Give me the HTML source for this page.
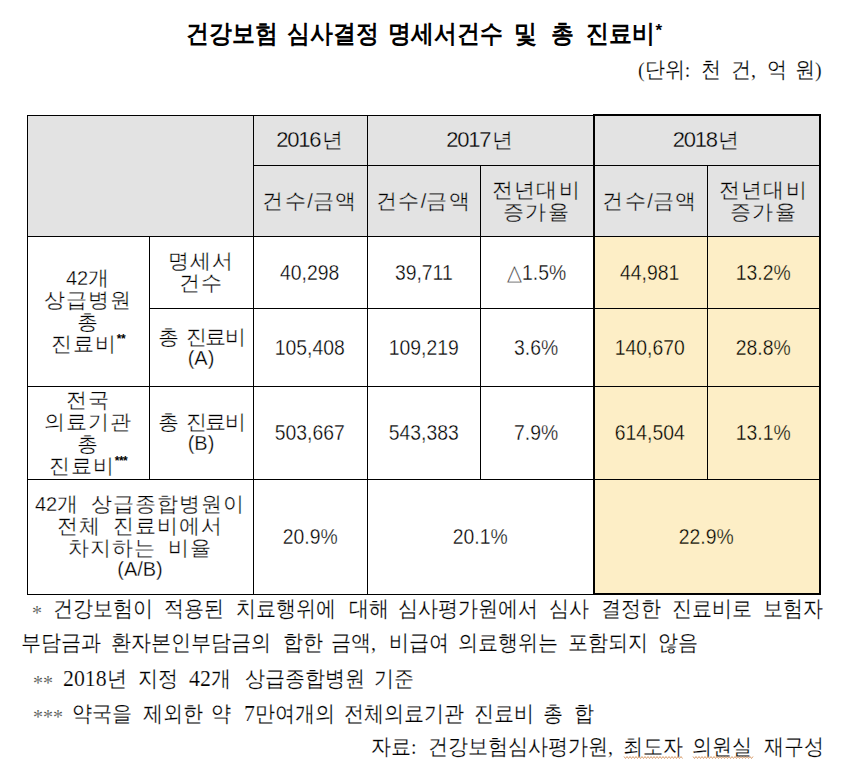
<!DOCTYPE html>
<html><head><meta charset="utf-8"><style>
html,body{margin:0;padding:0;background:#fff;width:845px;height:766px;overflow:hidden;position:relative}
.ln{position:absolute;background:#000}
.fl{position:absolute}
.c{position:absolute;display:flex;align-items:center;justify-content:center;text-align:center;font-family:"Liberation Sans",sans-serif;font-size:20px;line-height:21px;color:#000}
.c sup{font-size:12px;vertical-align:top;line-height:10px;-webkit-text-stroke:0;font-weight:bold;position:relative;top:1px;letter-spacing:-0.5px}
.h{font-size:21px;letter-spacing:var(--ls,1px)}
.d{font-size:22px;letter-spacing:-1.2px;margin-right:1.5px}
.c{-webkit-text-stroke:0.3px #fff}
.c.g{-webkit-text-stroke:0.3px #e3e3e3}
.c.y{-webkit-text-stroke:0.3px #fdeec6}
.w{position:absolute;white-space:pre;color:#000;line-height:normal}
.ast{position:absolute;font-family:"Liberation Sans",sans-serif;font-weight:bold;font-size:17px;line-height:17px}
</style></head><body>
<div class="fl" style="left:27px;top:115px;width:793px;height:121px;background:#e3e3e3"></div><div class="fl" style="left:593px;top:236px;width:227px;height:358px;background:#fdeec6"></div>
<div class="c g" style="left:253px;top:115px;width:114px;height:50px"><div style=""><span class="d">2016</span><span class="h">년</span></div></div><div class="c g" style="left:367px;top:115px;width:226px;height:50px"><div style=""><span class="d">2017</span><span class="h">년</span></div></div><div class="c g" style="left:593px;top:115px;width:227px;height:50px"><div style=""><span class="d">2018</span><span class="h">년</span></div></div><div class="c g" style="left:253px;top:165px;width:114px;height:71px"><div style="--ls:1.6px"><span class="h">건수</span>/<span class="h">금액</span></div></div><div class="c g" style="left:367px;top:165px;width:113px;height:71px"><div style="--ls:1.6px"><span class="h">건수</span>/<span class="h">금액</span></div></div><div class="c g" style="left:480px;top:165px;width:113px;height:71px"><div style="--ls:1.4px"><span class="h">전년대비</span><br><span class="h">증가율</span></div></div><div class="c g" style="left:593px;top:165px;width:114px;height:71px"><div style="--ls:1.6px"><span class="h">건수</span>/<span class="h">금액</span></div></div><div class="c g" style="left:707px;top:165px;width:113px;height:71px"><div style="--ls:1.4px"><span class="h">전년대비</span><br><span class="h">증가율</span></div></div><div class="c" style="left:27px;top:236px;width:122px;height:150px"><div style="">42<span class="h">개</span><br><span class="h">상급병원</span><br><span class="h">총</span><br><span class="h">진료비</span><sup>**</sup></div></div><div class="c" style="left:149px;top:236px;width:104px;height:72px"><div style=""><span class="h">명세서</span><br><span class="h">건수</span></div></div><div class="c" style="left:149px;top:308px;width:104px;height:78px"><div style="--ls:-1.5px;word-spacing:4px"><span class="h">총 진료비</span><br>(A)</div></div><div class="c" style="left:27px;top:386px;width:122px;height:93px"><div style=""><span class="h">전국</span><br><span class="h">의료기관</span><br><span class="h">총</span><br><span class="h">진료비</span><sup>***</sup></div></div><div class="c" style="left:149px;top:386px;width:104px;height:93px"><div style="--ls:-1.5px;word-spacing:4px"><span class="h">총 진료비</span><br>(B)</div></div><div class="c" style="left:253px;top:236px;width:114px;height:72px"><div style="font-size:22px;transform:scaleX(0.88);-webkit-text-stroke-width:0.35px">40,298</div></div><div class="c" style="left:367px;top:236px;width:113px;height:72px"><div style="font-size:22px;transform:scaleX(0.88);-webkit-text-stroke-width:0.35px">39,711</div></div><div class="c" style="left:480px;top:236px;width:113px;height:72px"><div style="font-size:22px;transform:scaleX(0.88);-webkit-text-stroke-width:0.35px">△1.5%</div></div><div class="c y" style="left:593px;top:236px;width:114px;height:72px"><div style="font-size:22px;transform:scaleX(0.88);-webkit-text-stroke-width:0.35px">44,981</div></div><div class="c y" style="left:707px;top:236px;width:113px;height:72px"><div style="font-size:22px;transform:scaleX(0.88);-webkit-text-stroke-width:0.35px">13.2%</div></div><div class="c" style="left:253px;top:308px;width:114px;height:78px"><div style="font-size:22px;transform:scaleX(0.88);-webkit-text-stroke-width:0.35px">105,408</div></div><div class="c" style="left:367px;top:308px;width:113px;height:78px"><div style="font-size:22px;transform:scaleX(0.88);-webkit-text-stroke-width:0.35px">109,219</div></div><div class="c" style="left:480px;top:308px;width:113px;height:78px"><div style="font-size:22px;transform:scaleX(0.88);-webkit-text-stroke-width:0.35px">3.6%</div></div><div class="c y" style="left:593px;top:308px;width:114px;height:78px"><div style="font-size:22px;transform:scaleX(0.88);-webkit-text-stroke-width:0.35px">140,670</div></div><div class="c y" style="left:707px;top:308px;width:113px;height:78px"><div style="font-size:22px;transform:scaleX(0.88);-webkit-text-stroke-width:0.35px">28.8%</div></div><div class="c" style="left:253px;top:386px;width:114px;height:93px"><div style="font-size:22px;transform:scaleX(0.88);-webkit-text-stroke-width:0.35px">503,667</div></div><div class="c" style="left:367px;top:386px;width:113px;height:93px"><div style="font-size:22px;transform:scaleX(0.88);-webkit-text-stroke-width:0.35px">543,383</div></div><div class="c" style="left:480px;top:386px;width:113px;height:93px"><div style="font-size:22px;transform:scaleX(0.88);-webkit-text-stroke-width:0.35px">7.9%</div></div><div class="c y" style="left:593px;top:386px;width:114px;height:93px"><div style="font-size:22px;transform:scaleX(0.88);-webkit-text-stroke-width:0.35px">614,504</div></div><div class="c y" style="left:707px;top:386px;width:113px;height:93px"><div style="font-size:22px;transform:scaleX(0.88);-webkit-text-stroke-width:0.35px">13.1%</div></div><div class="c" style="left:27px;top:479px;width:226px;height:115px"><div style="word-spacing:5px">42<span class="h">개 상급종합병원이</span><br><span class="h">전체 진료비에서</span><br><span class="h">차지하는 비율</span><br>(A/B)</div></div><div class="c" style="left:253px;top:479px;width:114px;height:115px"><div style="font-size:22px;transform:scaleX(0.88);-webkit-text-stroke-width:0.35px">20.9%</div></div><div class="c" style="left:367px;top:479px;width:226px;height:115px"><div style="font-size:22px;transform:scaleX(0.88);-webkit-text-stroke-width:0.35px">20.1%</div></div><div class="c y" style="left:593px;top:479px;width:227px;height:115px"><div style="font-size:22px;transform:scaleX(0.88);-webkit-text-stroke-width:0.35px">22.9%</div></div>
<div class="ln" style="left:27px;top:115px;width:567px;height:1px"></div><div class="ln" style="left:593px;top:114px;width:228px;height:2px"></div><div class="ln" style="left:253px;top:165px;width:568px;height:1px"></div><div class="ln" style="left:27px;top:236px;width:794px;height:1px"></div><div class="ln" style="left:149px;top:308px;width:672px;height:1px"></div><div class="ln" style="left:27px;top:386px;width:794px;height:1px"></div><div class="ln" style="left:27px;top:479px;width:794px;height:1px"></div><div class="ln" style="left:27px;top:594px;width:567px;height:1px"></div><div class="ln" style="left:593px;top:593px;width:228px;height:2px"></div><div class="ln" style="left:27px;top:115px;width:1px;height:480px"></div><div class="ln" style="left:149px;top:236px;width:1px;height:244px"></div><div class="ln" style="left:253px;top:115px;width:1px;height:480px"></div><div class="ln" style="left:367px;top:115px;width:1px;height:480px"></div><div class="ln" style="left:480px;top:165px;width:1px;height:315px"></div><div class="ln" style="left:593px;top:114px;width:2px;height:481px"></div><div class="ln" style="left:707px;top:165px;width:1px;height:315px"></div><div class="ln" style="left:819px;top:114px;width:2px;height:481px"></div>
<span class="w" style="left:186.0px;top:17.4px;font-family:'Liberation Serif',serif;font-size:25px;font-weight:bold;transform:scaleX(0.915);transform-origin:0 0;">건강보험</span>
<span class="w" style="left:287.0px;top:17.4px;font-family:'Liberation Serif',serif;font-size:25px;font-weight:bold;transform:scaleX(0.915);transform-origin:0 0;">심사결정</span>
<span class="w" style="left:388.0px;top:17.4px;font-family:'Liberation Serif',serif;font-size:25px;font-weight:bold;transform:scaleX(0.915);transform-origin:0 0;">명세서건수</span>
<span class="w" style="left:514.0px;top:17.4px;font-family:'Liberation Serif',serif;font-size:25px;font-weight:bold;transform:scaleX(0.915);transform-origin:0 0;">및</span>
<span class="w" style="left:550.6px;top:17.4px;font-family:'Liberation Serif',serif;font-size:25px;font-weight:bold;transform:scaleX(0.915);transform-origin:0 0;">총</span>
<span class="w" style="left:586.0px;top:17.4px;font-family:'Liberation Serif',serif;font-size:25px;font-weight:bold;transform:scaleX(0.915);transform-origin:0 0;">진료비</span>
<span class="w" style="left:637.7px;top:54.8px;font-family:'Liberation Serif',serif;font-size:22px;transform:scaleX(0.909);transform-origin:0 0;-webkit-text-stroke:0.2px #fff;">(단위:</span>
<span class="w" style="left:701.3px;top:54.8px;font-family:'Liberation Serif',serif;font-size:22px;transform:scaleX(0.909);transform-origin:0 0;-webkit-text-stroke:0.2px #fff;">천</span>
<span class="w" style="left:731.0px;top:54.8px;font-family:'Liberation Serif',serif;font-size:22px;transform:scaleX(0.909);transform-origin:0 0;-webkit-text-stroke:0.2px #fff;">건,</span>
<span class="w" style="left:767.0px;top:54.8px;font-family:'Liberation Serif',serif;font-size:22px;transform:scaleX(0.909);transform-origin:0 0;-webkit-text-stroke:0.2px #fff;">억</span>
<span class="w" style="left:794.5px;top:54.8px;font-family:'Liberation Serif',serif;font-size:22px;transform:scaleX(0.909);transform-origin:0 0;-webkit-text-stroke:0.2px #fff;">원)</span>
<span class="w" style="left:32.3px;top:600.0px;font-family:'Liberation Serif',serif;font-size:22px;transform:scaleX(0.909);transform-origin:0 0;-webkit-text-stroke:0.2px #fff;color:#333;">*</span>
<span class="w" style="left:53.0px;top:594.0px;font-family:'Liberation Serif',serif;font-size:22px;transform:scaleX(0.909);transform-origin:0 0;-webkit-text-stroke:0.2px #fff;">건강보험이</span>
<span class="w" style="left:164.0px;top:594.0px;font-family:'Liberation Serif',serif;font-size:22px;transform:scaleX(0.909);transform-origin:0 0;-webkit-text-stroke:0.2px #fff;">적용된</span>
<span class="w" style="left:235.5px;top:594.0px;font-family:'Liberation Serif',serif;font-size:22px;transform:scaleX(0.909);transform-origin:0 0;-webkit-text-stroke:0.2px #fff;">치료행위에</span>
<span class="w" style="left:349.0px;top:594.0px;font-family:'Liberation Serif',serif;font-size:22px;transform:scaleX(0.909);transform-origin:0 0;-webkit-text-stroke:0.2px #fff;">대해</span>
<span class="w" style="left:398.0px;top:594.0px;font-family:'Liberation Serif',serif;font-size:22px;transform:scaleX(0.909);transform-origin:0 0;-webkit-text-stroke:0.2px #fff;">심사평가원에서</span>
<span class="w" style="left:549.0px;top:594.0px;font-family:'Liberation Serif',serif;font-size:22px;transform:scaleX(0.909);transform-origin:0 0;-webkit-text-stroke:0.2px #fff;">심사</span>
<span class="w" style="left:601.0px;top:594.0px;font-family:'Liberation Serif',serif;font-size:22px;transform:scaleX(0.909);transform-origin:0 0;-webkit-text-stroke:0.2px #fff;">결정한</span>
<span class="w" style="left:672.0px;top:594.0px;font-family:'Liberation Serif',serif;font-size:22px;transform:scaleX(0.909);transform-origin:0 0;-webkit-text-stroke:0.2px #fff;">진료비로</span>
<span class="w" style="left:763.0px;top:594.0px;font-family:'Liberation Serif',serif;font-size:22px;transform:scaleX(0.909);transform-origin:0 0;-webkit-text-stroke:0.2px #fff;">보험자</span>
<span class="w" style="left:20.5px;top:628.0px;font-family:'Liberation Serif',serif;font-size:22px;transform:scaleX(0.909);transform-origin:0 0;-webkit-text-stroke:0.2px #fff;">부담금과</span>
<span class="w" style="left:110.5px;top:628.0px;font-family:'Liberation Serif',serif;font-size:22px;transform:scaleX(0.909);transform-origin:0 0;-webkit-text-stroke:0.2px #fff;">환자본인부담금의</span>
<span class="w" style="left:282.5px;top:628.0px;font-family:'Liberation Serif',serif;font-size:22px;transform:scaleX(0.909);transform-origin:0 0;-webkit-text-stroke:0.2px #fff;">합한</span>
<span class="w" style="left:330.8px;top:628.0px;font-family:'Liberation Serif',serif;font-size:22px;transform:scaleX(0.909);transform-origin:0 0;-webkit-text-stroke:0.2px #fff;">금액,</span>
<span class="w" style="left:388.8px;top:628.0px;font-family:'Liberation Serif',serif;font-size:22px;transform:scaleX(0.909);transform-origin:0 0;-webkit-text-stroke:0.2px #fff;">비급여</span>
<span class="w" style="left:458.0px;top:628.0px;font-family:'Liberation Serif',serif;font-size:22px;transform:scaleX(0.909);transform-origin:0 0;-webkit-text-stroke:0.2px #fff;">의료행위는</span>
<span class="w" style="left:568.0px;top:628.0px;font-family:'Liberation Serif',serif;font-size:22px;transform:scaleX(0.909);transform-origin:0 0;-webkit-text-stroke:0.2px #fff;">포함되지</span>
<span class="w" style="left:658.0px;top:628.0px;font-family:'Liberation Serif',serif;font-size:22px;transform:scaleX(0.909);transform-origin:0 0;-webkit-text-stroke:0.2px #fff;">않음</span>
<span class="w" style="left:32.7px;top:669.8px;font-family:'Liberation Serif',serif;font-size:22px;transform:scaleX(0.909);transform-origin:0 0;-webkit-text-stroke:0.2px #fff;color:#333;">**</span>
<span class="w" style="left:62.7px;top:663.8px;font-family:'Liberation Serif',serif;font-size:22px;transform:scaleX(0.909);transform-origin:0 0;-webkit-text-stroke:0.2px #fff;"><span style='font-size:24px'>2018</span>년</span>
<span class="w" style="left:138.0px;top:663.8px;font-family:'Liberation Serif',serif;font-size:22px;transform:scaleX(0.909);transform-origin:0 0;-webkit-text-stroke:0.2px #fff;">지정</span>
<span class="w" style="left:189.0px;top:663.8px;font-family:'Liberation Serif',serif;font-size:22px;transform:scaleX(0.909);transform-origin:0 0;-webkit-text-stroke:0.2px #fff;"><span style='font-size:24px'>42</span>개</span>
<span class="w" style="left:245.0px;top:663.8px;font-family:'Liberation Serif',serif;font-size:22px;transform:scaleX(0.909);transform-origin:0 0;-webkit-text-stroke:0.2px #fff;">상급종합병원</span>
<span class="w" style="left:374.0px;top:663.8px;font-family:'Liberation Serif',serif;font-size:22px;transform:scaleX(0.909);transform-origin:0 0;-webkit-text-stroke:0.2px #fff;">기준</span>
<span class="w" style="left:32.7px;top:703.9px;font-family:'Liberation Serif',serif;font-size:22px;transform:scaleX(0.909);transform-origin:0 0;-webkit-text-stroke:0.2px #fff;color:#333;">***</span>
<span class="w" style="left:71.7px;top:698.9px;font-family:'Liberation Serif',serif;font-size:22px;transform:scaleX(0.909);transform-origin:0 0;-webkit-text-stroke:0.2px #fff;">약국을</span>
<span class="w" style="left:142.7px;top:698.9px;font-family:'Liberation Serif',serif;font-size:22px;transform:scaleX(0.909);transform-origin:0 0;-webkit-text-stroke:0.2px #fff;">제외한</span>
<span class="w" style="left:210.5px;top:698.9px;font-family:'Liberation Serif',serif;font-size:22px;transform:scaleX(0.909);transform-origin:0 0;-webkit-text-stroke:0.2px #fff;">약</span>
<span class="w" style="left:244.0px;top:698.9px;font-family:'Liberation Serif',serif;font-size:22px;transform:scaleX(0.909);transform-origin:0 0;-webkit-text-stroke:0.2px #fff;"><span style='font-size:24px'>7</span>만여개의</span>
<span class="w" style="left:344.0px;top:698.9px;font-family:'Liberation Serif',serif;font-size:22px;transform:scaleX(0.909);transform-origin:0 0;-webkit-text-stroke:0.2px #fff;">전체의료기관</span>
<span class="w" style="left:474.0px;top:698.9px;font-family:'Liberation Serif',serif;font-size:22px;transform:scaleX(0.909);transform-origin:0 0;-webkit-text-stroke:0.2px #fff;">진료비</span>
<span class="w" style="left:543.0px;top:698.9px;font-family:'Liberation Serif',serif;font-size:22px;transform:scaleX(0.909);transform-origin:0 0;-webkit-text-stroke:0.2px #fff;">총</span>
<span class="w" style="left:574.0px;top:698.9px;font-family:'Liberation Serif',serif;font-size:22px;transform:scaleX(0.909);transform-origin:0 0;-webkit-text-stroke:0.2px #fff;">합</span>
<span class="w" style="left:370.8px;top:732.0px;font-family:'Liberation Serif',serif;font-size:22px;transform:scaleX(0.909);transform-origin:0 0;-webkit-text-stroke:0.2px #fff;">자료:</span>
<span class="w" style="left:427.6px;top:732.0px;font-family:'Liberation Serif',serif;font-size:22px;transform:scaleX(0.909);transform-origin:0 0;-webkit-text-stroke:0.2px #fff;">건강보험심사평가원,</span>
<span class="w" style="left:622.6px;top:732.0px;font-family:'Liberation Serif',serif;font-size:22px;transform:scaleX(0.909);transform-origin:0 0;-webkit-text-stroke:0.2px #fff;">최도자</span>
<span class="w" style="left:692.0px;top:732.0px;font-family:'Liberation Serif',serif;font-size:22px;transform:scaleX(0.909);transform-origin:0 0;-webkit-text-stroke:0.2px #fff;">의원실</span>
<span class="w" style="left:764.0px;top:732.0px;font-family:'Liberation Serif',serif;font-size:22px;transform:scaleX(0.909);transform-origin:0 0;-webkit-text-stroke:0.2px #fff;">재구성</span>
<div class="ast" style="left:655.5px;top:21.5px">*</div>
<svg style="position:absolute;left:0;top:0" width="845" height="766"><polyline points="624.0,756.5 625.5,758.5 627.0,756.5 628.5,758.5 630.0,756.5 631.5,758.5 633.0,756.5 634.5,758.5 636.0,756.5 637.5,758.5 639.0,756.5 640.5,758.5 642.0,756.5 643.5,758.5 645.0,756.5 646.5,758.5 648.0,756.5 649.5,758.5 651.0,756.5 652.5,758.5 654.0,756.5 655.5,758.5 657.0,756.5 658.5,758.5 660.0,756.5 661.5,758.5 663.0,756.5 664.5,758.5 666.0,756.5 667.5,758.5 669.0,756.5 670.5,758.5 672.0,756.5 673.5,758.5 675.0,756.5 676.5,758.5 678.0,756.5 679.5,758.5 681.0,756.5 682.5,758.5" fill="none" stroke="#d9a070" stroke-width="1"/><polyline points="693.0,756.5 694.5,758.5 696.0,756.5 697.5,758.5 699.0,756.5 700.5,758.5 702.0,756.5 703.5,758.5 705.0,756.5 706.5,758.5 708.0,756.5 709.5,758.5 711.0,756.5 712.5,758.5 714.0,756.5 715.5,758.5 717.0,756.5 718.5,758.5 720.0,756.5 721.5,758.5 723.0,756.5 724.5,758.5 726.0,756.5 727.5,758.5 729.0,756.5 730.5,758.5 732.0,756.5 733.5,758.5 735.0,756.5 736.5,758.5 738.0,756.5 739.5,758.5 741.0,756.5 742.5,758.5 744.0,756.5 745.5,758.5 747.0,756.5 748.5,758.5 750.0,756.5 751.5,758.5 753.0,756.5" fill="none" stroke="#d9a070" stroke-width="1"/></svg>
</body></html>
